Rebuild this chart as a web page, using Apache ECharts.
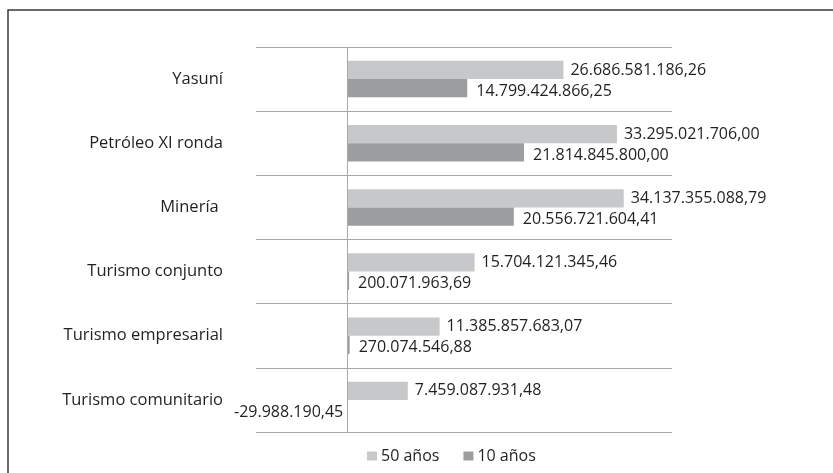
<!DOCTYPE html>
<html>
<head>
<meta charset="utf-8">
<script src="https://cdn.jsdelivr.net/npm/echarts@6/dist/echarts.min.js"></script>
<style>
html,body{margin:0;padding:0;background:#fff;}
#c{width:833px;height:473px;}
</style>
</head>
<body>
<div id="c"></div>
<script>
const categories = ["Yasuní", "Petróleo XI ronda", "Minería ", "Turismo conjunto", "Turismo empresarial", "Turismo comunitario"];
const seriesNames = ["50 años", "10 años"];
const values50 = [26686581186.26, 33295021706.00, 34137355088.79, 15704121345.46, 11385857683.07, 7459087931.48];
const values10 = [14799424866.25, 21814845800.00, 20556721604.41, 200071963.69, 270074546.88, -29988190.45];

const FONT = "Open Sans";
const TXT = "#231f20";

function fmt(v) {
  const neg = v < 0;
  const s = Math.abs(v).toFixed(2);
  const parts = s.split(".");
  const intPart = parts[0].replace(/\B(?=(\d{3})+(?!\d))/g, ".");
  return (neg ? "-" : "") + intPart + "," + parts[1];
}

const chart = echarts.init(document.getElementById("c"), null, {renderer: "canvas"});

const data10 = values10.map(v => v < 0
  ? {value: v, label: {position: "left", distance: 4}}
  : v);

chart.setOption({
  backgroundColor: "#ffffff",
  animation: false,
  textStyle: {fontFamily: FONT},
  grid: {left: 256, right: 161, top: 47, bottom: 41, containLabel: false},
  legend: {
    data: seriesNames,
    left: 362,
    top: 443,
    icon: "rect",
    itemWidth: 10,
    itemHeight: 9,
    itemGap: 24,
    textStyle: {fontFamily: FONT, fontSize: 16, color: TXT, padding: [0, 0, 0, -1]}
  },
  xAxis: {
    type: "value",
    min: -11.3e9,
    max: 40.1e9,
    show: true,
    axisLine: {show: false},
    axisTick: {show: false},
    axisLabel: {show: false},
    splitLine: {show: false}
  },
  yAxis: {
    type: "category",
    data: categories,
    inverse: true,
    axisLine: {show: false, onZero: false},
    axisTick: {show: false},
    axisLabel: {
      margin: 33,
      fontFamily: FONT,
      fontSize: 16.5,
      color: TXT
    },
    splitLine: {show: true, lineStyle: {color: "#a8a8a8", width: 1}}
  },
  series: [
    {
      name: seriesNames[0],
      type: "bar",
      data: values50,
      barGap: "0%",
      barCategoryGap: "43%",
      itemStyle: {color: "#c7c8ca"},
      label: {
        show: true,
        position: "right",
        distance: 7,
        fontFamily: FONT,
        fontSize: 16,
        color: TXT,
        formatter: p => fmt(p.value)
      },
      markLine: {
        silent: true,
        symbol: "none",
        label: {show: false},
        lineStyle: {color: "#a8a8a8", width: 1, type: "solid"},
        data: [{xAxis: 0}]
      }
    },
    {
      name: seriesNames[1],
      type: "bar",
      data: data10,
      barGap: "0%",
      barCategoryGap: "43%",
      itemStyle: {color: "#9c9da0"},
      label: {
        show: true,
        position: "right",
        distance: 9,
        offset: [0, 3],
        fontFamily: FONT,
        fontSize: 16,
        color: TXT,
        formatter: p => fmt(p.value)
      }
    }
  ],
  graphic: [
    {
      type: "rect",
      silent: true,
      shape: {x: 8, y: 10, width: 900, height: 600},
      style: {fill: "none", stroke: "#3a3a3a", lineWidth: 1.5},
      z: 100
    }
  ]
});
</script>
</body>
</html>
